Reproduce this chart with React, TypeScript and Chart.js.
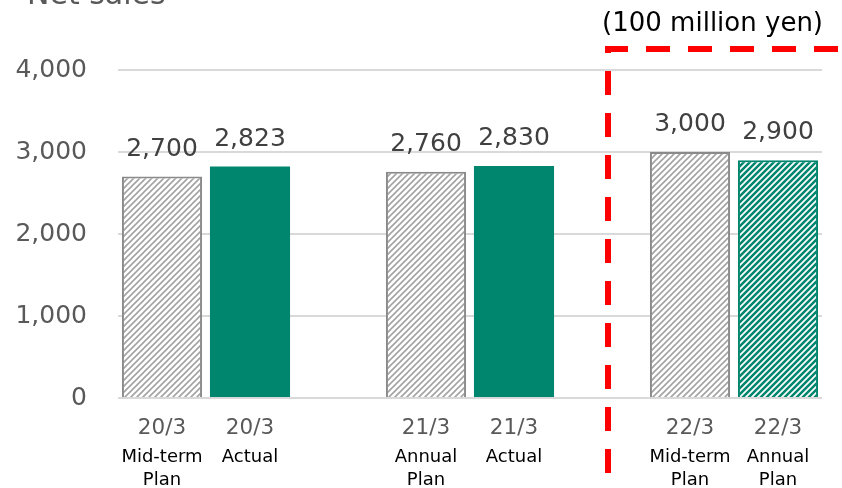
import React, { useEffect, useRef } from 'react';
import { Chart, registerables } from 'chart.js';

Chart.register(...registerables);

// ---- data ----
const periods: string[] = ['20/3', '20/3', '', '21/3', '21/3', '', '22/3', '22/3'];
const planTypes: string[][] = [
  ['Mid-term', 'Plan'],
  ['Actual'],
  [''],
  ['Annual', 'Plan'],
  ['Actual'],
  [''],
  ['Mid-term', 'Plan'],
  ['Annual', 'Plan'],
];
const netSales: (number | null)[] = [2700, 2823, null, 2760, 2830, null, 3000, 2900];
const barKinds: string[] = ['grayHatch', 'green', 'none', 'grayHatch', 'green', 'none', 'grayHatch', 'greenHatch'];
const yMin = 0;
const yMax = 4000;
const yStep = 1000;
const chartTitle = 'Net sales';
const unitLabel = '(100 million yen)';
const dividerAfterIndex = 5; // the empty slot holding the red dashed divider

const FONT = '"DejaVu Sans", Verdana, sans-serif';
const GREEN = '#00866E';
const GRAY_BORDER = '#8A8A8A';
const GRAY_STRIPE = '#A3A3A3';

function makeHatch(bg: string, fg: string, lw: number): CanvasPattern | string {
  const size = 6;
  const c = document.createElement('canvas');
  c.width = size;
  c.height = size;
  const ctx = c.getContext('2d');
  if (!ctx) return bg;
  ctx.fillStyle = bg;
  ctx.fillRect(0, 0, size, size);
  ctx.strokeStyle = fg;
  ctx.lineWidth = lw;
  ctx.beginPath();
  ctx.moveTo(-1, size + 1);
  ctx.lineTo(size + 1, -1);
  ctx.moveTo(-2, 2);
  ctx.lineTo(2, -2);
  ctx.moveTo(size - 2, size + 2);
  ctx.lineTo(size + 2, size - 2);
  ctx.stroke();
  return ctx.createPattern(c, 'repeat') || bg;
}

const overlayPlugin = {
  id: 'overlay',
  afterDatasetsDraw(chart: any) {
    const ctx = chart.ctx;
    const meta = chart.getDatasetMeta(0);
    ctx.save();
    ctx.font = `25px ${FONT}`;
    ctx.fillStyle = '#404040';
    ctx.textAlign = 'center';
    ctx.textBaseline = 'alphabetic';
    meta.data.forEach((el: any, i: number) => {
      const v = netSales[i];
      if (v === null || v === undefined) return;
      ctx.fillText(v.toLocaleString('en-US'), el.x, el.y - 21);
    });
    ctx.restore();
  },
  afterDraw(chart: any) {
    const ctx = chart.ctx;
    const area = chart.chartArea;
    const xs = chart.scales.x;
    ctx.save();
    // title (partly cut at the top)
    ctx.font = `30px ${FONT}`;
    ctx.fillStyle = '#595959';
    ctx.textAlign = 'left';
    ctx.textBaseline = 'alphabetic';
    ctx.fillText(chartTitle, 27, 4);
    // unit
    ctx.font = `26px ${FONT}`;
    ctx.fillStyle = '#000000';
    ctx.textAlign = 'right';
    ctx.fillText(unitLabel, area.right + 1, 31);
    // red dashed divider
    const x = xs.getPixelForValue(dividerAfterIndex) + 6;
    const top = area.top - 21;
    const bottom = area.bottom + 75;
    ctx.strokeStyle = '#FF0000';
    ctx.lineWidth = 6;
    ctx.setLineDash([24, 18]);
    ctx.lineCap = 'butt';
    ctx.beginPath();
    ctx.moveTo(x, bottom);
    ctx.lineTo(x, top);
    ctx.lineTo(chart.width + 10, top);
    ctx.stroke();
    ctx.restore();
  },
};

export default function App() {
  const ref = useRef<HTMLCanvasElement>(null);

  useEffect(() => {
    if (!ref.current) return;
    const grayHatch = makeHatch('#FFFFFF', GRAY_STRIPE, 1.6);
    const greenHatch = makeHatch('#FFFFFF', GREEN, 2.5);
    const bg = barKinds.map((k) =>
      k === 'grayHatch' ? grayHatch : k === 'greenHatch' ? greenHatch : k === 'green' ? GREEN : 'rgba(0,0,0,0)'
    );
    const bc = barKinds.map((k) => (k === 'grayHatch' ? GRAY_BORDER : k === 'none' ? 'rgba(0,0,0,0)' : GREEN));
    const bw = barKinds.map((k) => (k === 'green' || k === 'none' ? 0 : 2));

    const chart = new Chart(ref.current, {
      type: 'bar',
      data: {
        labels: periods,
        datasets: [
          {
            data: netSales as any,
            backgroundColor: bg as any,
            borderColor: bc,
            borderWidth: bw,
            barPercentage: 0.91,
            categoryPercentage: 1,
            xAxisID: 'x',
          },
        ],
      },
      options: {
        animation: false,
        responsive: false,
        events: [],
        layout: { padding: { left: 0, right: 20, top: 70, bottom: 0 } },
        plugins: {
          legend: { display: false },
          tooltip: { enabled: false },
          title: { display: false },
        },
        scales: {
          y: {
            min: yMin,
            max: yMax,
            ticks: {
              stepSize: yStep,
              padding: 31,
              color: '#595959',
              font: { size: 25, family: FONT },
              callback: (v: any) => Number(v).toLocaleString('en-US'),
            },
            grid: { color: '#D9D9D9', lineWidth: 2, drawTicks: false },
            border: { display: false },
            afterFit: (s: any) => {
              s.width = 118;
            },
          },
          x: {
            type: 'category',
            position: 'bottom',
            weight: 0,
            grid: { display: false, drawTicks: false },
            border: { display: false },
            ticks: {
              color: '#595959',
              font: { size: 21.5, family: FONT },
              padding: 18,
              maxRotation: 0,
              minRotation: 0,
              autoSkip: false,
            },
            afterFit: (s: any) => {
              s.height = 42;
            },
          },
          x2: {
            type: 'category',
            position: 'bottom',
            weight: 1,
            labels: planTypes as any,
            grid: { display: false, drawTicks: false },
            border: { display: false },
            ticks: {
              color: '#000000',
              font: { size: 18, family: FONT, lineHeight: 1.28 },
              padding: 6,
              maxRotation: 0,
              minRotation: 0,
              autoSkip: false,
            },
            afterFit: (s: any) => {
              s.height = 48;
            },
          },
        } as any,
      },
      plugins: [overlayPlugin],
    });
    return () => chart.destroy();
  }, []);

  return (
    <div style={{ position: 'absolute', left: 0, top: 0, width: 842, height: 488, background: '#fff' }}>
      <canvas ref={ref} width={842} height={488} style={{ display: 'block', width: 842, height: 488 }} />
    </div>
  );
}
